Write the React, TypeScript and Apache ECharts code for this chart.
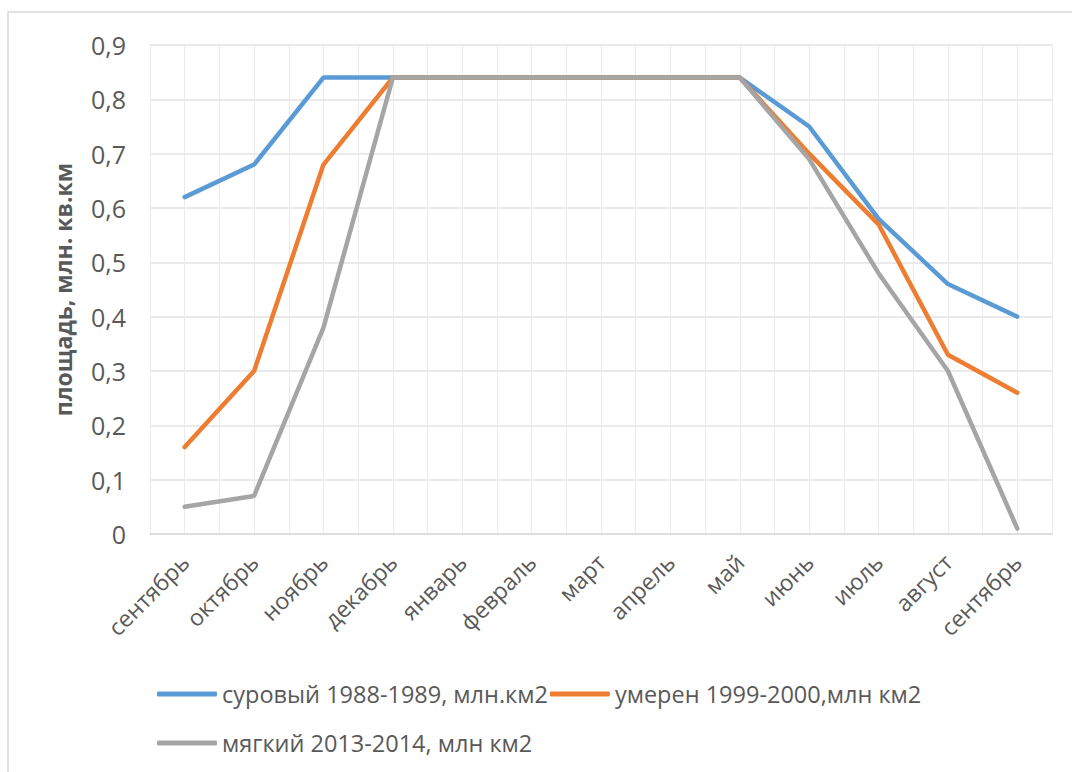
import React, { useEffect, useRef } from "react";
import * as echarts from "echarts";

const months = [
  "сентябрь", "октябрь", "ноябрь", "декабрь", "январь", "февраль", "март",
  "апрель", "май", "июнь", "июль", "август", "сентябрь",
];
const severe = [0.62, 0.68, 0.84, 0.84, 0.84, 0.84, 0.84, 0.84, 0.84, 0.75, 0.58, 0.46, 0.40];
const moderate = [0.16, 0.30, 0.68, 0.84, 0.84, 0.84, 0.84, 0.84, 0.84, 0.70, 0.57, 0.33, 0.26];
const mild = [0.05, 0.07, 0.38, 0.84, 0.84, 0.84, 0.84, 0.84, 0.84, 0.69, 0.48, 0.30, 0.01];
const seriesNames = [
  "суровый 1988-1989, млн.км2",
  "умерен 1999-2000,млн км2",
  "мягкий 2013-2014, млн км2",
];
const yAxisName = "площадь, млн. кв.км";

const FONT = "Open Sans";

export default function App() {
  const ref = useRef<HTMLDivElement>(null);
  useEffect(() => {
    if (!ref.current) return;
    const chart = echarts.init(ref.current, null, { renderer: "svg" });
    const legendText = { color: "#595959", fontSize: 23.5, fontFamily: FONT };
    chart.setOption({
      animation: false,
      backgroundColor: "#ffffff",
      graphic: [
        {
          type: "rect",
          shape: { x: 8, y: 12, width: 1200, height: 900 },
          style: { fill: "none", stroke: "#d9d9d9", lineWidth: 1.5 },
          silent: true,
        },
      ],
      grid: { left: 150, right: 20, top: 45, bottom: 238 },
      legend: [
        {
          data: [seriesNames[0], seriesNames[1]],
          left: 152,
          top: 677,
          itemWidth: 60,
          itemHeight: 5,
          itemGap: 2,
          icon: "roundRect",
          textStyle: legendText,
        },
        {
          data: [seriesNames[2]],
          left: 152,
          top: 726,
          itemWidth: 60,
          itemHeight: 5,
          itemGap: 2,
          icon: "roundRect",
          textStyle: legendText,
        },
      ],
      xAxis: [
        {
          type: "category",
          data: months,
          boundaryGap: true,
          axisLine: { show: true, lineStyle: { color: "#d9d9d9", width: 1.5 } },
          axisTick: { show: false },
          splitLine: { show: false },
          axisLabel: {
            rotate: 45,
            interval: 0,
            margin: 24,
            color: "#595959",
            fontSize: 23,
            fontFamily: FONT,
          },
        },
        {
          type: "value",
          min: 0,
          max: 26,
          interval: 1,
          position: "bottom",
          show: true,
          axisLine: { show: false },
          axisTick: { show: false },
          axisLabel: { show: false },
          splitLine: { show: true, lineStyle: { color: "#ebebeb", width: 1 } },
        },
      ],
      yAxis: {
        type: "value",
        min: 0,
        max: 0.9,
        interval: 0.1,
        name: yAxisName,
        nameLocation: "middle",
        nameGap: 76,
        nameTextStyle: {
          color: "#595959",
          fontSize: 23,
          fontWeight: "bold",
          fontFamily: FONT,
        },
        axisLine: { show: false },
        axisTick: { show: false },
        axisLabel: {
          margin: 24,
          color: "#595959",
          fontSize: 25,
          fontFamily: FONT,
          formatter: (v: number) =>
            v === 0 ? "0" : v.toFixed(1).replace(".", ","),
        },
        splitLine: { show: true, lineStyle: { color: "#e3e3e3", width: 1.5 } },
      },
      series: [
        {
          name: seriesNames[0],
          type: "line",
          data: severe,
          xAxisIndex: 0,
          showSymbol: false,
          symbol: "none",
          color: "#5B9BD5",
          lineStyle: { width: 4.5, color: "#5B9BD5", cap: "round" },
        },
        {
          name: seriesNames[1],
          type: "line",
          data: moderate,
          xAxisIndex: 0,
          showSymbol: false,
          symbol: "none",
          color: "#ED7D31",
          lineStyle: { width: 4.5, color: "#ED7D31", cap: "round" },
        },
        {
          name: seriesNames[2],
          type: "line",
          data: mild,
          xAxisIndex: 0,
          showSymbol: false,
          symbol: "none",
          color: "#A5A5A5",
          lineStyle: { width: 4.5, color: "#A5A5A5", cap: "round" },
        },
      ],
    });
    return () => chart.dispose();
  }, []);
  return (
    <div
      ref={ref}
      style={{ position: "fixed", left: 0, top: 0, width: 1072, height: 772 }}
    />
  );
}
